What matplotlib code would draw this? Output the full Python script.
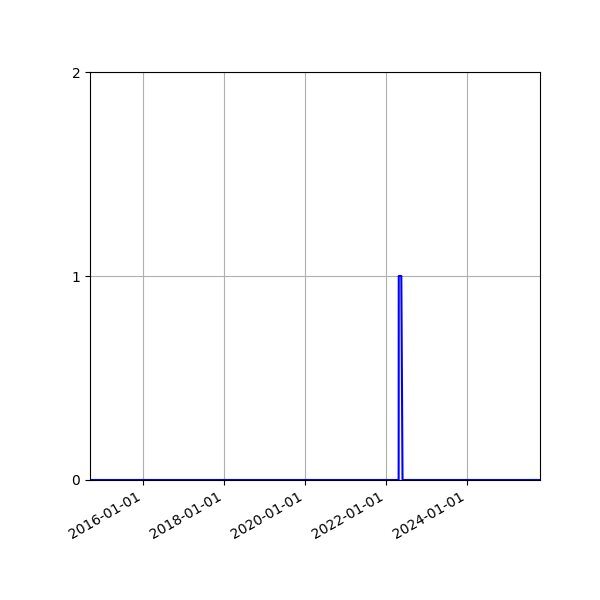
import pandas as pd
import matplotlib
matplotlib.use("Agg")
import matplotlib.pyplot as plt
import matplotlib.dates as mdates

# series: zero everywhere except a short spike in spring 2022
dates = pd.to_datetime(["2014-09-10", "2022-04-25", "2022-04-26", "2022-05-19",
                        "2022-05-30", "2025-10-21"])
values = [0, 0, 1, 1, 0, 0]
y_ticks = [0, 1, 2]

fig, ax = plt.subplots(figsize=(6, 6), dpi=100)
ax.plot(dates, values, color="blue", lw=1.5)

ax.set_xlim(dates[0], dates[-1])
ax.set_ylim(0, 2)
ax.set_yticks(y_ticks)
ax.xaxis.set_major_locator(mdates.YearLocator(2))
ax.xaxis.set_major_formatter(mdates.DateFormatter("%Y-%m-%d"))
ax.grid(True)

fig.autofmt_xdate()
fig.subplots_adjust(left=0.15, right=0.9, bottom=0.2, top=0.88)
fig.savefig("out.png")
